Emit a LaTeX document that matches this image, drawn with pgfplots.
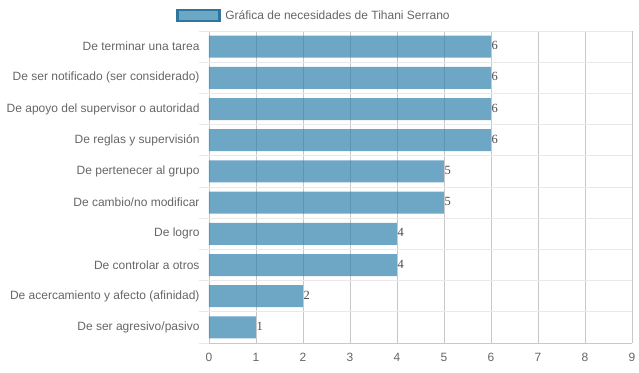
\documentclass[border=0pt]{standalone}
\usepackage{pgfplots}
\pgfplotsset{compat=1.18}
\usepackage{fontspec}
\setmainfont{Liberation Sans}
\newfontfamily\serifnum{Liberation Serif}
\definecolor{barfill}{RGB}{48,128,174}
\definecolor{legborder}{RGB}{45,118,160}
\definecolor{txtgray}{RGB}{102,102,102}
\definecolor{gridv}{RGB}{200,200,200}
\definecolor{gridh}{RGB}{233,233,233}
\begin{document}
\begin{tikzpicture}
\path[use as bounding box] (-209pt,-29pt) rectangle (430pt,343pt);
\begin{axis}[
  scale only axis, width=423pt, height=312pt,
  at={(0pt,0pt)}, anchor=south west,
  xbar, bar width=22pt,
  xmin=0, xmax=9, ymin=-0.5, ymax=9.5, y dir=reverse,
  xtick={0,...,9}, ytick={0,...,9},
  yticklabels={De terminar una tarea, De ser notificado (ser considerado), De apoyo del supervisor o autoridad, De reglas y supervisión, De pertenecer al grupo, De cambio/no modificar, De logro, De controlar a otros, De acercamiento y afecto (afinidad), De ser agresivo/pasivo},
  minor ytick={-0.5,0.5,...,9.5},
  xmajorgrids, yminorgrids,
  major grid style={draw=gridv, line width=0.8pt},
  minor grid style={draw=gridh, line width=0.8pt},
  axis line style={draw=none},
  major tick length=0pt,
  tick align=outside, minor tick length=10pt,
  minor tick style={draw=gridh, line width=0.8pt},
  xtick pos=bottom, ytick pos=left,
  tick label style={font=\fontsize{12}{14}\selectfont, text=txtgray},
  yticklabel style={xshift=-6pt},
  xticklabel style={yshift=-7pt},
  /pgf/number format/assume math mode=true,
  point meta=x,
  nodes near coords,
  nodes near coords style={font=\serifnum\fontsize{12.5}{14}\selectfont, text=black, anchor=west, inner sep=0.5pt, yshift=1pt},
  legend style={at={(0.2480,1.0497)}, anchor=center, draw=none, fill=none,
    font=\fontsize{12}{14}\selectfont, text=txtgray, inner sep=0pt},
]
\addplot[fill=barfill, fill opacity=0.7, draw=none,
  legend image code/.code={\draw[fill=barfill, fill opacity=0.7, draw=legborder, line width=2.5pt] (-3pt,-5.5pt) rectangle (39pt,5.5pt); \path (43pt,0pt);}]
  coordinates {(6,0) (6,1) (6,2) (6,3) (5,4) (5,5) (4,6) (4,7) (2,8) (1,9)};
\addlegendentry{Gráfica de necesidades de Tihani Serrano}
\draw[draw=gridv, line width=0.8pt] (axis cs:0,9.5) -- (axis cs:9,9.5);
\end{axis}
\end{tikzpicture}
\end{document}
